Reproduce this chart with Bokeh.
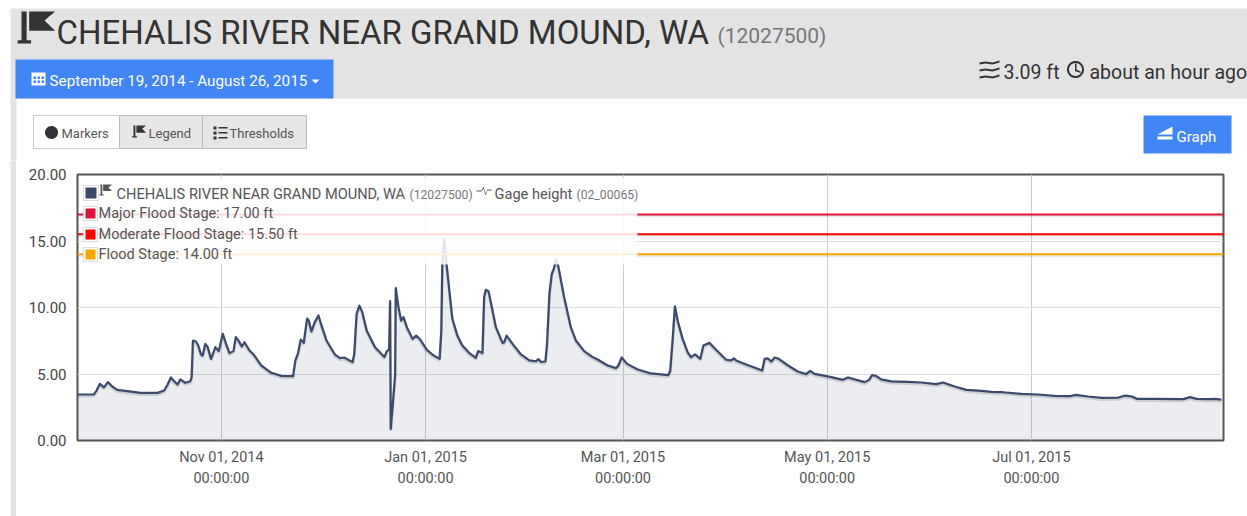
from datetime import datetime, timedelta
import numpy as np
from bokeh.embed import file_html
from bokeh.resources import INLINE
from bokeh.plotting import figure
from bokeh.layouts import column, row
from bokeh.models import (ColumnDataSource, FixedTicker, Label, BoxAnnotation, PolyAnnotation,
                          Span, LinearAxis, Range1d, Spacer)
from bokeh.transform import dodge

START = datetime(2014, 9, 19)
END_DAY = 342.4
days = [0,4.9,5.7,6.7,7.9,9.1,10.4,11.9,14.9,18.9,23.9,25.9,26.9,27.9,28.7,29.9,30.7,32.2,33.7,34.1,34.5,35.4,36.1,36.9,37.4,38.2,38.9,39.9,41.2,42.2,43.4,44.4,45.4,46.6,47.3,48.2,49.1,49.9,51.4,52.7,54.9,57.9,60.9,64.4,65.1,65.9,66.7,67.6,68.6,69.1,69.9,70.9,72,72.9,74.4,76.9,78.4,79.7,82.2,82.7,83.4,84.2,85.1,86.4,88.9,91.7,92.4,93.1,93.4,93.6,94.9,95.1,95.9,96.7,97.4,98.4,100.1,101.2,102.4,104.4,106.4,108.2,108.7,109,109.6,110.3,112,113.5,115,117,119,119.7,121,121.5,122,122.8,123.7,125,127,127.5,128.2,130,132.5,135,137,137.7,138.5,139.8,140.3,141,141.7,142.3,143,143.6,145.4,147.4,148.9,151.4,153.9,155.4,158.4,160.9,161.6,162.6,164.2,167.4,171.4,176.5,177.1,177.8,178.5,179.3,180.8,182.3,183.3,184.5,186.1,187,188.8,190.8,193.8,195.3,196.1,196.8,198.8,204.6,205.3,206.3,207.3,208.3,209.3,212.3,215.2,217.7,218.9,220.2,222.2,225.2,228.7,230.2,235.2,236.5,237.4,238.6,240.1,243.1,248.1,252.1,256.6,258.6,262.1,265.6,270.1,273.1,276.5,282,287,292,296.5,298.2,302,306,311,313.1,315,316.6,321.9,330.4,332.4,334.4,337.9,339.8,341.8]
gage = [3.46,3.46,3.76,4.26,4.0,4.39,4.06,3.81,3.71,3.58,3.58,3.76,4.19,4.74,4.51,4.21,4.59,4.34,4.46,4.76,7.52,7.44,7.14,6.47,6.39,7.27,7.02,6.14,7.02,6.72,8.02,7.27,6.57,6.72,7.77,7.47,7.07,7.39,6.77,6.44,5.64,5.09,4.86,4.84,6.02,6.57,7.59,7.34,9.17,9.02,8.2,8.9,9.4,8.65,7.52,6.47,6.19,6.24,5.89,6.52,9.52,10.15,9.65,8.27,7.02,6.27,6.72,6.82,10.48,0.88,4.89,11.45,10.03,9.02,9.27,8.52,7.64,7.89,7.59,6.82,6.39,6.14,8.27,13.16,15.16,13.16,9.15,7.89,7.14,6.59,6.22,6.72,6.57,10.78,11.33,11.23,10.15,8.52,7.34,7.39,7.89,7.27,6.47,6.02,5.96,6.12,5.91,5.94,7.27,11.03,12.53,12.9,13.6,13.16,10.78,8.52,7.52,6.72,6.27,6.09,5.64,5.44,5.64,6.24,5.76,5.34,5.04,4.91,5.26,7.52,10.08,9.02,7.64,6.64,6.27,6.47,6.14,7.14,7.34,6.82,6.07,6.02,6.17,6.02,5.81,5.26,6.14,6.17,5.94,6.24,6.17,5.64,5.19,4.99,5.24,5.01,4.91,4.76,4.56,4.74,4.39,4.56,4.91,4.86,4.59,4.44,4.41,4.36,4.24,4.36,4.06,3.81,3.73,3.66,3.63,3.51,3.46,3.36,3.33,3.43,3.31,3.21,3.23,3.38,3.31,3.13,3.13,3.11,3.26,3.13,3.11,3.13,3.08]
tick_dates = [datetime(2014,11,1), datetime(2015,1,1), datetime(2015,3,1), datetime(2015,5,1), datetime(2015,7,1)]
tick_labels = ["Nov 01, 2014", "Jan 01, 2015", "Mar 01, 2015", "May 01, 2015", "Jul 01, 2015"]
time_label = "00:00:00"
y_ticks = [0, 5, 10, 15, 20]
flood_levels = [17.0, 15.5, 14.0]
flood_colors = ["#dc143c", "#ff0000", "#ffa500"]
flood_names = ["Major Flood Stage: 17.00 ft", "Moderate Flood Stage: 15.50 ft", "Flood Stage: 14.00 ft"]

W, H = 1247, 516
HEAD_H = 160
FL, FR, FT, FB = 77, 1223, 174, 440   # chart frame box on the page
LINE = "#3b4a6b"; BLUE = "#4285f4"; GRAY = "#e3e3e3"; TXT = "#555555"; DARK = "#333333"
FONT = "Roboto"

def ms(d):
    return (d - datetime(1970, 1, 1)).total_seconds() * 1000.0

class Canvas:
    def __init__(self, fig, ox, oy):
        self.fig, self.ox, self.oy = fig, ox, oy   # page x of frame left, page y of frame bottom
    def box(self, x0, y0, x1, y1, fill, alpha=1.0, line=None, lw=1):
        self.fig.add_layout(BoxAnnotation(left=x0 - self.ox, right=x1 - self.ox, top=self.oy - y0, bottom=self.oy - y1,
                                          left_units="screen", right_units="screen", top_units="screen", bottom_units="screen",
                                          fill_color=fill, fill_alpha=alpha, line_color=line, line_alpha=1.0, line_width=lw, editable=False))
    def poly(self, px, py, fill, alpha=1.0, line=None, lw=1):
        self.fig.add_layout(PolyAnnotation(xs=[v - self.ox for v in px], ys=[self.oy - v for v in py],
                                           xs_units="screen", ys_units="screen",
                                           fill_color=fill, fill_alpha=alpha, line_color=line, line_alpha=1.0, line_width=lw))
    def text(self, s, x, y, size, color=TXT, align="left"):
        self.fig.add_layout(Label(x=x - self.ox, y=self.oy - y, x_units="screen", y_units="screen", text=s,
                                  text_font=FONT, text_font_size=f"{size}px", text_color=color,
                                  text_align=align, text_baseline="middle"))
    def flag(self, x, y, s, c):
        self.poly([x, x + .16*s, x + .16*s, x + .3*s, x + .3*s, x - .12*s, x - .12*s, x],
                  [y, y, y + .9*s, y + .9*s, y + s, y + s, y + .9*s, y + .9*s], c)
        self.poly([x + .24*s, x + 1.05*s, x + .72*s, x + 1.05*s, x + .24*s],
                  [y, y, y + .28*s, y + .6*s, y + .6*s], c)
    def circle(self, cx, cy, r, fill=None, line=None, lw=1):
        t = np.linspace(0, 2 * np.pi, 40)
        self.poly(list(cx + r * np.cos(t)), list(cy + r * np.sin(t)), fill or "white", 1.0 if fill else 0.0, line, lw)

def blank(w, h, color="white"):
    f = figure(width=w, height=h, output_backend="svg", toolbar_location=None,
               x_axis_type=None, y_axis_type=None, x_range=Range1d(0, w), y_range=Range1d(0, h),
               min_border=0, outline_line_color=None, background_fill_color=color, border_fill_color=color)
    f.grid.visible = False
    return f

# ---- header
head = blank(W, HEAD_H)
h = Canvas(head, 0, HEAD_H)
h.box(10, 8, W, 98, GRAY)
h.box(10, 98, 16, HEAD_H, GRAY)
h.flag(21, 11, 32, DARK)
h.text("CHEHALIS RIVER NEAR GRAND MOUND, WA", 56, 32, 33, DARK)
h.text("(12027500)", 717, 35, 21, "#777777")
h.box(15, 59, 333, 98, BLUE)
h.box(31, 72, 45, 85, "white")
for yy in (76, 80):
    for xx in (33, 37, 41):
        h.box(xx, yy, xx + 2.5, yy + 2.5, BLUE)
h.text("September 19, 2014 - August 26, 2015", 49, 80, 15.25, "white")
h.poly([311, 319, 315], [79, 79, 83], "white")
for yy in (61, 68, 75):
    h.poly([979, 985, 992, 999, 999, 992, 985, 979], [yy + 1, yy, yy + 1, yy - 1, yy + 1, yy + 3, yy + 2, yy + 3], DARK)
h.text("3.09 ft", 1003, 72, 19.5, DARK)
h.circle(1075, 69, 7.5, None, DARK, 2)
h.poly([1074.5, 1076, 1076, 1080, 1080, 1074.5], [63, 63, 69, 71, 72.5, 70.5], DARK)
h.text("about an hour ago", 1089, 72, 19.5, DARK)
h.box(33, 115, 119, 148, "white", line="#cccccc")
h.box(119, 115, 202, 148, "#e6e6e6", line="#bbbbbb")
h.box(202, 115, 306, 148, "#e6e6e6", line="#bbbbbb")
h.circle(51, 132, 6.5, DARK)
h.text("Markers", 61, 133, 13, TXT)
h.flag(133, 125, 12, DARK)
h.text("Legend", 148, 133, 13, TXT)
for yy in (126, 131, 136):
    h.box(213, yy, 216, yy + 3, DARK)
    h.box(218, yy + .5, 227, yy + 2, DARK)
h.text("Thresholds", 229, 133, 13, TXT)
h.box(1143, 115, 1231, 153, BLUE)
h.poly([1157, 1172, 1172], [134, 134, 126], "white")
h.poly([1157, 1172, 1172, 1157], [136, 136, 139, 139], "white")
h.text("Graph", 1176, 136, 15, "white")

# ---- left strip: white gap then a gray band
strip = blank(6, H - HEAD_H, GRAY)

# ---- chart
xs = [START + timedelta(days=d) for d in days]
src = ColumnDataSource(dict(x=xs, y=gage, y0=[0.0] * len(gage)))
p = figure(width=W - 16, height=H - HEAD_H - 1, output_backend="svg", toolbar_location=None,
           x_axis_type="datetime",
           x_range=Range1d(ms(START), ms(START + timedelta(days=END_DAY))),
           y_range=Range1d(0, 20),
           min_border_left=FL - 16, min_border_right=W - FR, min_border_top=FT - HEAD_H, min_border_bottom=H - 1 - FB,
           background_fill_color="white", border_fill_color="white",
           outline_line_color="#555555", outline_line_width=2)
tick_ms = [ms(d) for d in tick_dates]
ax = p.xaxis[0]
ax.ticker = FixedTicker(ticks=tick_ms)
ax.major_label_overrides = dict(zip(tick_ms, tick_labels))
ax2 = LinearAxis(ticker=FixedTicker(ticks=tick_ms),
                 major_label_overrides={t: time_label for t in tick_ms})
p.add_layout(ax2, "below")
for a in (ax, ax2):
    a.axis_line_color = None
    a.major_tick_line_color = None
    a.minor_tick_line_color = None
    a.major_label_text_font = FONT
    a.major_label_text_font_size = "14.5px"
    a.major_label_text_color = TXT
ax.major_label_standoff = 2
ax2.major_label_standoff = -5
yax = p.yaxis[0]
yax.ticker = FixedTicker(ticks=y_ticks)
yax.major_label_overrides = {v: f"{v:.2f}" for v in y_ticks}
yax.axis_line_color = None
yax.major_tick_line_color = None
yax.minor_tick_line_color = None
yax.major_label_text_font = FONT
yax.major_label_text_font_size = "15px"
yax.major_label_text_color = "#444444"
yax.major_label_standoff = 5
p.xgrid.ticker = FixedTicker(ticks=tick_ms)
p.xgrid.grid_line_color = "#cccccc"
p.ygrid.grid_line_color = "#dddddd"

p.varea(x="x", y1="y0", y2="y", source=src, fill_color=LINE, fill_alpha=0.1)
p.line(x="x", y=dodge("y", -0.12, range=p.y_range), source=src, line_color="#000000", line_alpha=0.13, line_width=3)
p.line(x="x", y="y", source=src, line_color=LINE, line_width=2.2, line_join="round")
for lv, c in zip(flood_levels, flood_colors):
    p.add_layout(Span(location=lv - 0.1, dimension="width", line_color="#000000", line_alpha=0.08, line_width=3))
    p.add_layout(Span(location=lv, dimension="width", line_color=c, line_width=2))

c_ = Canvas(p, FL, FB)
c_.box(83, 177, 637, 264, "white", alpha=0.86)
c_.box(83, 185, 98, 200, "white", line="#dddddd")
c_.box(85, 187, 96, 198, LINE)
c_.flag(100, 184, 11, "#555555")
c_.text("CHEHALIS RIVER NEAR GRAND MOUND, WA", 116, 193, 14.6, TXT)
c_.text("(12027500)", 409, 194, 12.2, "#777777")
c_.poly([476, 481, 483, 485, 487, 491, 491, 487, 485, 483, 481, 476],
        [190, 190, 186, 193, 189, 189, 190, 190, 195, 188, 191, 191], "#555555")
c_.text("Gage height", 494, 193, 14.6, TXT)
c_.text("(02_00065)", 576, 194, 12.2, "#777777")
for nm, col, yy in zip(flood_names, flood_colors, (213, 234, 254)):
    c_.box(83, yy - 7, 97, yy + 7, "white", line="#dddddd")
    c_.box(85, yy - 5, 95, yy + 5, col)
    c_.text(nm, 98, yy, 14.5, TXT)

foot = blank(W - 16, 1, GRAY)

layout = column(head,
                row(Spacer(width=10, height=H - HEAD_H), strip,
                    column(p, foot)))
open("out.html", "w").write(file_html(layout, INLINE))
